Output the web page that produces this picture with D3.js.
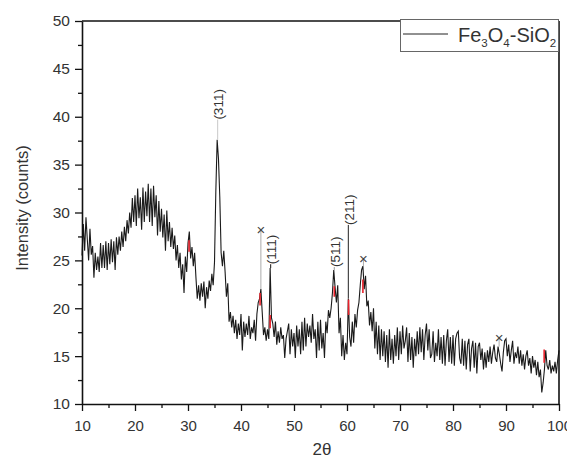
<!DOCTYPE html>
<html>
<head>
<meta charset="utf-8">
<script src="https://cdn.jsdelivr.net/npm/d3@7"></script>
<style>
  body { margin: 0; background: #fff; }
  svg { display: block; font-family: "Liberation Sans", Arial, sans-serif; }
  .axis path, .axis line { stroke: #111; }
  .axis text { fill: #333; }
</style>
</head>
<body>
<svg id="chart" width="567" height="464"></svg>
<script>
// XRD pattern, 2θ from 10 to 100 in steps of 0.25
const startAngle = 10;
const stepAngle = 0.25;
const intensity = [
  25.5, 28.8, 26.0, 29.5,  27.2, 25.0, 28.3, 25.6,  26.5, 23.2, 25.8, 24.0,
  25.4, 23.8, 26.8, 24.2,  26.6, 24.2, 27.0, 24.0,  26.8, 24.6, 27.2, 24.8,
  27.0, 24.0, 27.4, 25.6,  27.5, 26.0, 28.0, 26.4,  28.5, 27.0, 29.2, 27.8,
  30.0, 28.4, 31.5, 29.0,  31.8, 28.6, 32.5, 29.4,  31.6, 28.2, 32.6, 29.0,
  32.2, 29.6, 33.0, 29.0,  32.5, 28.6, 32.8, 29.5,  31.8, 27.6, 31.2, 28.0,
  30.4, 27.4, 29.8, 26.0,  30.2, 27.0, 29.0, 26.4,  28.4, 26.2, 27.6, 25.0,
  26.6, 24.2, 25.8, 23.0,  24.6, 21.6, 25.4, 23.8,  26.8, 28.0, 25.2, 26.4,
  24.4, 25.8, 23.2, 21.0,  22.4, 20.8, 22.6, 21.2,  22.8, 20.0, 22.2, 21.0,
  22.9, 21.8, 23.6, 22.4,  24.8, 32.2, 37.6, 35.6,  31.6, 25.8, 24.4, 26.0,
  23.8, 21.2, 22.6, 18.6,  19.6, 18.0, 19.2, 17.4,  18.8, 16.8, 18.4, 17.2,
  19.4, 15.6, 18.6, 17.0,  18.4, 17.2, 19.2, 16.8,  18.0, 17.4, 18.8, 16.6,
  19.4, 20.6, 21.0, 22.0,  19.6, 17.2, 18.0, 16.6,  17.8, 16.8, 24.2, 19.0,
  18.4, 17.0, 18.6, 16.2,  17.6, 16.4, 18.0, 16.8,  17.2, 14.8, 16.8, 17.6,
  18.4, 15.2, 17.8, 16.0,  17.4, 14.8, 18.2, 16.0,  17.8, 15.2, 18.6, 15.6,
  19.0, 16.0, 18.4, 17.0,  18.2, 16.4, 19.4, 16.8,  17.8, 14.8, 18.6, 15.6,
  18.8, 15.8, 17.4, 14.8,  18.6, 17.4, 19.8, 19.0,  20.0, 21.6, 24.0, 22.2,
  20.6, 22.4, 17.4, 19.0,  15.0, 17.2, 14.6, 16.4,  15.2, 21.0, 17.0, 16.0,
  18.6, 16.4, 19.4, 18.0,  19.8, 20.6, 22.4, 24.0,  24.4, 22.0, 23.4, 20.2,
  20.8, 18.2, 19.6, 17.6,  20.0, 15.8, 18.6, 15.2,  18.2, 14.6, 17.8, 15.0,
  17.6, 14.4, 17.2, 13.8,  17.8, 14.6, 16.8, 14.2,  17.2, 15.0, 18.0, 14.6,
  17.6, 15.2, 18.2, 15.8,  16.6, 18.0, 14.4, 17.4,  14.6, 17.0, 13.8, 16.8,
  15.0, 17.6, 15.2, 18.0,  15.4, 17.8, 14.6, 17.2,  18.4, 15.6, 17.8, 14.8,
  15.2, 17.6, 14.4, 16.4,  15.0, 17.8, 14.6, 17.0,  14.2, 17.2, 14.0, 16.6,
  17.8, 14.4, 17.0, 14.2,  17.2, 14.0, 16.8, 17.4,  17.6, 14.8, 14.2, 16.8,
  14.0, 16.6, 13.6, 16.2,  16.8, 13.4, 15.8, 16.6,  13.8, 16.4, 13.2, 16.0,
  16.4, 14.6, 15.8, 13.6,  15.4, 13.8, 15.6, 14.4,  16.0, 14.2, 15.4, 16.2,
  14.8, 14.4, 16.0, 15.2,  14.2, 13.4, 15.4, 16.6,  16.8, 15.0, 16.2, 14.4,
  15.6, 16.6, 14.2, 15.4,  14.8, 16.0, 14.2, 15.6,  14.0, 15.2, 13.6, 15.0,
  15.6, 14.0, 14.8, 13.2,  15.0, 13.8, 14.6, 13.0,  14.4, 12.8, 13.6, 11.2,
  12.2, 13.6, 15.6, 14.0,  13.6, 14.6, 13.2, 14.0,  13.4, 14.4, 13.2, 14.6,
  15.6
];

// short red segments on the trace
const redAngle = [30.2, 43.6, 45.5, 57.6, 60.3, 63.0, 97.2];
const redLow   = [25.9, 20.3, 17.9, 21.2, 19.3, 21.6, 14.3];
const redHigh  = [27.1, 21.6, 19.3, 22.3, 20.9, 23.0, 15.7];

// Miller index labels
const peakLabels = ["(311)", "(111)", "(511)", "(211)"];
const peakAngle  = [35.6, 45.6, 57.6, 60.25];
const peakTop    = [37.6, 24.2, 24.0, 21.0];
const labelBase  = [39.7, 24.6, 24.3, 28.7];
const peakLineColor = ["#c8c8c8", "#111", "#999", "#222"];

// "x" markers
const crossAngle = [43.75, 63.1, 88.7];
const crossBase  = [22.0, 24.4, 16.0];
const crossY     = [28.2, 25.2, 16.9];

const xTicks = [10, 20, 30, 40, 50, 60, 70, 80, 90, 100];
const yTicks = [10, 15, 20, 25, 30, 35, 40, 45, 50];

const svg = d3.select("#chart");
const x = d3.scaleLinear().domain([10, 100]).range([82, 559]);
const y = d3.scaleLinear().domain([10, 50]).range([404, 21]);

const points = intensity.map((v, i) => [startAngle + i * stepAngle, v]);

// trace
svg.append("path")
  .datum(points)
  .attr("fill", "none")
  .attr("stroke", "#1a1a1a")
  .attr("stroke-width", 1.1)
  .attr("d", d3.line().x(d => x(d[0])).y(d => y(d[1])));

svg.append("g")
  .selectAll("line")
  .data(redAngle)
  .join("line")
  .attr("x1", d => x(d)).attr("x2", d => x(d))
  .attr("y1", (d, i) => y(redLow[i]))
  .attr("y2", (d, i) => y(redHigh[i]))
  .attr("stroke", "#e8202a")
  .attr("stroke-width", 1.6);

// peak labels
const peaks = svg.append("g");
peaks.selectAll("line")
  .data(peakAngle)
  .join("line")
  .attr("x1", d => x(d)).attr("x2", d => x(d))
  .attr("y1", (d, i) => y(peakTop[i]))
  .attr("y2", (d, i) => y(labelBase[i]))
  .attr("stroke", (d, i) => peakLineColor[i])
  .attr("stroke-width", 1);

peaks.selectAll("text")
  .data(peakLabels)
  .join("text")
  .attr("transform", (d, i) => `translate(${x(peakAngle[i]) + 1},${y(labelBase[i])}) rotate(-90)`)
  .attr("dy", "0.35em")
  .attr("text-anchor", "start")
  .style("font-size", "13.5px")
  .style("fill", "#333")
  .text(d => d);

const crosses = svg.append("g");
crosses.selectAll("line")
  .data(crossAngle)
  .join("line")
  .attr("x1", d => x(d)).attr("x2", d => x(d))
  .attr("y1", (d, i) => y(crossBase[i]))
  .attr("y2", (d, i) => y(crossY[i]))
  .attr("stroke", "#aaa")
  .attr("stroke-width", 1);

crosses.selectAll("text")
  .data(crossAngle)
  .join("text")
  .attr("x", d => x(d))
  .attr("y", (d, i) => y(crossY[i]))
  .attr("dy", "0.35em")
  .attr("text-anchor", "middle")
  .style("font-size", "15px")
  .style("fill", "#444")
  .text("×");

// axes
const xAxis = svg.append("g")
  .attr("class", "axis")
  .attr("transform", "translate(0,404)")
  .call(d3.axisBottom(x).tickValues(xTicks).tickSize(7).tickPadding(9).tickSizeOuter(0));
xAxis.selectAll("text").style("font-size", "15px");

svg.append("g")
  .attr("class", "axis")
  .attr("transform", "translate(0,404)")
  .call(d3.axisBottom(x).tickValues(d3.range(15, 100, 10)).tickSize(4).tickFormat("").tickSizeOuter(0))
  .select(".domain").remove();

const yAxis = svg.append("g")
  .attr("class", "axis")
  .attr("transform", "translate(82,0)")
  .call(d3.axisLeft(y).tickValues(yTicks).tickSize(7).tickPadding(5).tickSizeOuter(0));
yAxis.selectAll("text").style("font-size", "15.5px");

svg.append("g")
  .attr("class", "axis")
  .attr("transform", "translate(82,0)")
  .call(d3.axisLeft(y).tickValues(d3.range(12.5, 50, 5)).tickSize(4).tickFormat("").tickSizeOuter(0))
  .select(".domain").remove();

svg.selectAll(".axis path, .axis line").attr("stroke-width", 1.3);
svg.selectAll(".axis .domain").attr("stroke-width", 1.6);

// frame top and right
svg.append("line")
  .attr("x1", x(10)).attr("x2", x(100))
  .attr("y1", y(50)).attr("y2", y(50))
  .attr("stroke", "#111").attr("stroke-width", 1.6);
svg.append("line")
  .attr("x1", x(100)).attr("x2", x(100))
  .attr("y1", y(50)).attr("y2", y(10))
  .attr("stroke", "#111").attr("stroke-width", 1.6);

// axis titles
svg.append("text")
  .attr("transform", "translate(28,208) rotate(-90)")
  .attr("text-anchor", "middle")
  .style("font-size", "16.5px")
  .style("fill", "#333")
  .text("Intensity (counts)");

svg.append("text")
  .attr("x", 322)
  .attr("y", 455)
  .attr("text-anchor", "middle")
  .style("font-size", "17px")
  .style("fill", "#333")
  .text("2θ");

// legend
const legend = svg.append("g");
legend.append("rect")
  .attr("x", 400.5).attr("y", 19.5)
  .attr("width", 158).attr("height", 32)
  .attr("fill", "#fff")
  .attr("stroke", "#666")
  .attr("stroke-width", 1);
legend.append("line")
  .attr("x1", 403).attr("x2", 448)
  .attr("y1", 34).attr("y2", 34)
  .attr("stroke", "#222").attr("stroke-width", 1);
const lt = legend.append("text")
  .attr("x", 458).attr("y", 42)
  .style("font-size", "20px")
  .style("fill", "#333");
lt.append("tspan").text("Fe");
lt.append("tspan").attr("dy", 5).style("font-size", "11.5px").text("3");
lt.append("tspan").attr("dy", -5).text("O");
lt.append("tspan").attr("dy", 5).style("font-size", "11.5px").text("4");
lt.append("tspan").attr("dy", -5).text("-SiO");
lt.append("tspan").attr("dy", 5).style("font-size", "11.5px").text("2");
</script>
</body>
</html>
